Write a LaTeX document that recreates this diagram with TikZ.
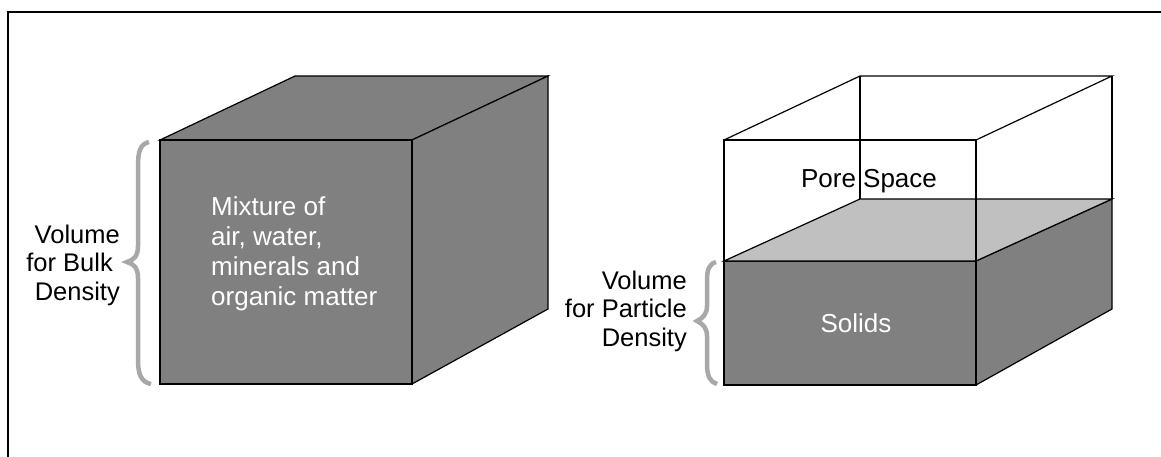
\documentclass[tikz,border=0pt]{standalone}
\usepackage{fontspec}
\setmainfont{Liberation Sans}
\definecolor{solidgray}{HTML}{808080}
\definecolor{topgray}{HTML}{C0C0C0}
\definecolor{bracegray}{HTML}{A8A8A8}
\begin{document}
\begin{tikzpicture}[x=1pt,y=-1pt,
  edge/.style={draw=black,line width=1.2pt,line join=miter},
  face/.style={edge,fill=solidgray},
  topface/.style={edge,fill=topgray},
  bracestroke/.style={draw=bracegray,line width=4.5pt},
  label/.style={font=\fontsize{25.5}{28.5}\selectfont,text=black,inner sep=0pt},
  inlabel/.style={font=\fontsize{26}{30}\selectfont,text=white,inner sep=0pt}]
\useasboundingbox (0,0) rectangle (1161,456);
\clip (0,0) rectangle (1161,456);
\draw[line width=1.5pt] (8,12) rectangle (1190,490);

% ---- left cube ----
\coordinate (LFTL) at (160,140);
\coordinate (LFTR) at (412,140);
\coordinate (LFBR) at (412,384);
\coordinate (LFBL) at (160,384);
\coordinate (LBTL) at (295,76);
\coordinate (LBTR) at (548,76);
\coordinate (LBBR) at (548,309);
\path[face] (LFTL) -- (LBTL) -- (LBTR) -- (LFTR) -- cycle;
\path[face] (LFTR) -- (LBTR) -- (LBBR) -- (LFBR) -- cycle;
\path[face] (LFTL) -- (LFTR) -- (LFBR) -- (LFBL) -- cycle;
\node[inlabel,align=left,anchor=west] (mix) at (211,254)
  {Mixture of\\air, water,\\minerals and\\organic matter};

% left brace
\coordinate (LBa) at (149,142);
\coordinate (LBb) at (151,384);
\draw[bracestroke] (LBa) .. controls (140,144) and (138,152) .. (138,166)
  -- (138,246) .. controls (138,256) and (134,260) .. (127,262)
  .. controls (134,264) and (138,268) .. (138,278)
  -- (138,360) .. controls (138,374) and (141,382) .. (LBb);
\node[label,align=right,anchor=east] (bulk) at (120,265)
  {Volume\\for Bulk\rule{7pt}{0pt}\\Density};

% ---- right cube ----
\coordinate (RFTL) at (724,140);
\coordinate (RFTR) at (976,140);
\coordinate (RFML) at (724,261);
\coordinate (RFMR) at (976,261);
\coordinate (RFBL) at (724,385);
\coordinate (RFBR) at (976,385);
\coordinate (RBTL) at (860,76);
\coordinate (RBTR) at (1112,76);
\coordinate (RBML) at (860,199);
\coordinate (RBMR) at (1112,199);
\coordinate (RBBR) at (1112,309);
% solids
\path[face] (RFML) -- (RFMR) -- (RFBR) -- (RFBL) -- cycle;
\path[face] (RFMR) -- (RBMR) -- (RBBR) -- (RFBR) -- cycle;
\path[topface] (RFML) -- (RBML) -- (RBMR) -- (RFMR) -- cycle;
% pore space wireframe
\draw[edge] (RFML) -- (RFTL) -- (RFTR) -- (RFMR);
\draw[edge] (RFTL) -- (RBTL) -- (RBTR) -- (RFTR);
\draw[edge] (RBTL) -- (RBML);
\draw[edge] (RBTR) -- (RBMR);
\draw[edge] (RFTR) -- (RFBR);
\node[inlabel,text=black] (pore) at (869,181) {Pore Space};
\node[inlabel] (solids) at (856,323) {Solids};

% right brace
\coordinate (RBa) at (716,262);
\coordinate (RBb) at (717,384);
\draw[bracestroke] (RBa) .. controls (709,264) and (707,270) .. (707,280)
  -- (707,306) .. controls (707,314) and (703,318) .. (697,321)
  .. controls (703,324) and (707,328) .. (707,336)
  -- (707,364) .. controls (707,376) and (710,382) .. (RBb);
\node[label,align=right,anchor=east] (particle) at (687,311)
  {Volume\\for Particle\\Density};
\end{tikzpicture}
\end{document}
